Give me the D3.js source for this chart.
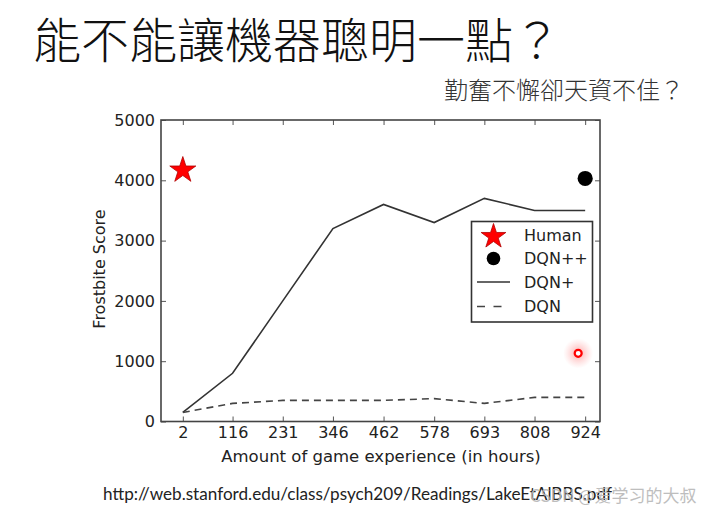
<!DOCTYPE html>
<html><head><meta charset="utf-8">
<script src="https://cdn.jsdelivr.net/npm/d3@7/dist/d3.min.js"></script>
<style>html,body{margin:0;padding:0;background:#fff;}svg{display:block;}</style>
</head><body>
<svg id="c" width="727" height="515"></svg>
<script>
// ---- data ----
const hours = [2, 116, 231, 346, 462, 578, 693, 808, 924];
const dqnPlus = [150, 800, 2000, 3200, 3600, 3300, 3700, 3500, 3500];
const dqn = [150, 300, 350, 350, 350, 380, 300, 400, 400];
const human = {hours: 2, score: 4200};
const dqnPlusPlus = {hours: 924, score: 4030};
const yTicks = [0, 1000, 2000, 3000, 4000, 5000];
const legendLabels = ["Human", "DQN++", "DQN+", "DQN"];
const pointerMark = {hours: 908, score: 1130};
const titleText = "能不能讓機器聰明一點？";
const subtitleText = "勤奮不懈卻天資不佳？";
const urlText = "http://web.stanford.edu/class/psych209/Readings/LakeEtAlBBS.pdf";
const watermarkText = "CSDN @爱学习的大叔";

const svg = d3.select("#c");
const L = 161, R = 600, T = 120, B = 421.5;
const x = d3.scaleLinear().domain([-48, 958]).range([L, R]);
const y = d3.scaleLinear().domain([0, 5000]).range([B, T]);
const tickFont = "DejaVu Sans";

// titles
svg.append("text").attr("x", 33).attr("y", 58)
  .attr("font-family", "Noto Sans CJK TC").attr("font-weight", 300)
  .attr("font-size", 48).attr("fill", "#111").text(titleText);
svg.append("text").attr("x", 444).attr("y", 99)
  .attr("font-family", "Noto Sans CJK TC").attr("font-weight", 300)
  .attr("font-size", 24).attr("fill", "#333").text(subtitleText);

// glow defs
const defs = svg.append("defs");
const rg = defs.append("radialGradient").attr("id", "glow");
rg.append("stop").attr("offset", "0%").attr("stop-color", "#ff4040").attr("stop-opacity", 0.45);
rg.append("stop").attr("offset", "100%").attr("stop-color", "#ff8080").attr("stop-opacity", 0);

// axes
function styleAxis(g, labels) {
  g.select(".domain").remove();
  g.selectAll(".tick line").attr("stroke", "#555").attr("stroke-width", 1);
  g.selectAll(".tick text").attr("font-family", tickFont).attr("font-size", 16).attr("fill", "#222");
  if (!labels) g.selectAll(".tick text").remove();
}
svg.append("g").attr("transform", `translate(0,${B})`)
  .call(d3.axisBottom(x).tickValues(hours).tickFormat(d3.format("d")).tickSize(-5).tickPadding(5.5))
  .call(g => styleAxis(g, true));
svg.append("g").attr("transform", `translate(0,${T})`)
  .call(d3.axisTop(x).tickValues(hours).tickSize(-5))
  .call(g => styleAxis(g, false));
svg.append("g").attr("transform", `translate(${L},0)`)
  .call(d3.axisLeft(y).tickValues(yTicks).tickFormat(d3.format("d")).tickSize(-5).tickPadding(6))
  .call(g => styleAxis(g, true));
svg.append("g").attr("transform", `translate(${R},0)`)
  .call(d3.axisRight(y).tickValues(yTicks).tickSize(-5))
  .call(g => styleAxis(g, false));

// frame
svg.append("rect").attr("x", L).attr("y", T).attr("width", R - L).attr("height", B - T)
  .attr("fill", "none").attr("stroke", "#444").attr("stroke-width", 1.6);

// axis labels
svg.append("text").attr("x", 381).attr("y", 462).attr("text-anchor", "middle")
  .attr("font-family", tickFont).attr("font-size", 16.5).attr("fill", "#222")
  .text("Amount of game experience (in hours)");
svg.append("text").attr("transform", "translate(105,269) rotate(-90)").attr("text-anchor", "middle")
  .attr("font-family", tickFont).attr("font-size", 16).attr("fill", "#222")
  .text("Frostbite Score");

// lines
const line = d3.line().x((d, i) => x(hours[i])).y(d => y(d));
svg.append("path").datum(dqnPlus).attr("d", line).attr("fill", "none")
  .attr("stroke", "#333").attr("stroke-width", 1.6);
svg.append("path").datum(dqn).attr("d", line).attr("fill", "none")
  .attr("stroke", "#444").attr("stroke-width", 1.6).attr("stroke-dasharray", "7,5");

// markers
const star = d3.symbol().type(d3.symbolStar);
const starR = 13.7;
const starArea = d => d * d / 0.8908130915292852;
svg.append("path").attr("d", star.size(starArea(starR))())
  .attr("transform", `translate(${x(human.hours)},${y(human.score) + 2})`)
  .attr("fill", "#ff0000").attr("stroke", "#b00000").attr("stroke-width", 0.8);
svg.append("circle").attr("cx", x(dqnPlusPlus.hours)).attr("cy", y(dqnPlusPlus.score))
  .attr("r", 7.6).attr("fill", "#000");

// legend
const lg = svg.append("g");
lg.append("rect").attr("x", 471.5).attr("y", 221.5).attr("width", 121).attr("height", 100.5)
  .attr("fill", "#fff").attr("stroke", "#333").attr("stroke-width", 1.6);
const rowY = [235, 258.5, 282, 306.5];
legendLabels.forEach((lab, i) => {
  const cy = rowY[i];
  if (i === 0) lg.append("path").attr("d", star.size(starArea(13))())
      .attr("transform", `translate(493.5,${cy + 1.5})`).attr("fill", "#ff0000").attr("stroke", "#b00000").attr("stroke-width", 0.8);
  if (i === 1) lg.append("circle").attr("cx", 493.5).attr("cy", cy).attr("r", 6.8).attr("fill", "#000");
  if (i === 2) lg.append("line").attr("x1", 477).attr("x2", 510).attr("y1", cy).attr("y2", cy)
      .attr("stroke", "#333").attr("stroke-width", 1.6);
  if (i === 3) lg.append("line").attr("x1", 477).attr("x2", 510).attr("y1", cy).attr("y2", cy)
      .attr("stroke", "#444").attr("stroke-width", 1.6).attr("stroke-dasharray", "8,8.5");
  lg.append("text").attr("x", 524).attr("y", cy).attr("dy", "0.36em")
    .attr("font-family", tickFont).attr("font-size", 16).attr("fill", "#222").text(lab);
});

// pointer highlight
svg.append("circle").attr("cx", x(pointerMark.hours)).attr("cy", y(pointerMark.score))
  .attr("r", 15).attr("fill", "url(#glow)");
svg.append("circle").attr("cx", x(pointerMark.hours)).attr("cy", y(pointerMark.score))
  .attr("r", 3.5).attr("fill", "#fff").attr("stroke", "#ff0000").attr("stroke-width", 2.2);

// url + watermark (the watermark overlaps the url in the reference too)
svg.append("text").attr("x", 103).attr("y", 500).attr("font-family", "Lato")
  .attr("font-size", 17).attr("fill", "#222").attr("textLength", 509).attr("lengthAdjust", "spacingAndGlyphs")
  .text(urlText);
svg.append("text").attr("x", 530).attr("y", 502).attr("font-family", "Noto Sans CJK SC")
  .attr("font-size", 17).attr("fill", "#b8b8b8").attr("opacity", 0.9).text(watermarkText);
</script>
</body></html>
